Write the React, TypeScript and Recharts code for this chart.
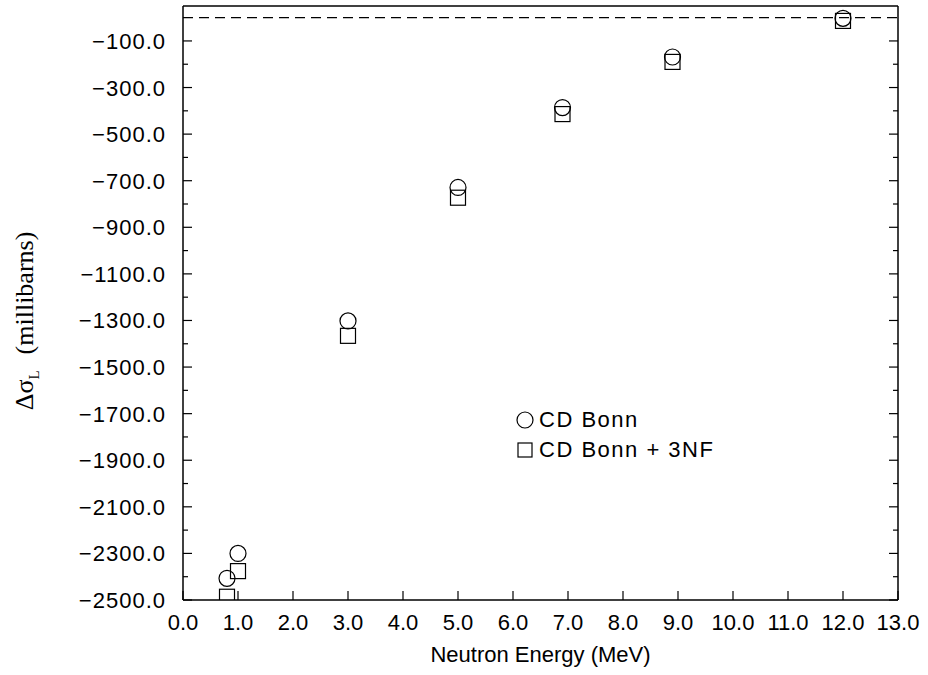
import { ScatterChart, Scatter, XAxis, YAxis, ReferenceLine, Legend, Label } from "recharts";

const energies = [0.8, 1.0, 3.0, 5.0, 6.9, 8.9, 12.0];
const cdBonn = [-2407, -2300, -1302, -729, -386, -169, -3];
const cdBonn3nf = [-2486, -2376, -1366, -773, -414, -190, -14];

const xTicks = [0, 1, 2, 3, 4, 5, 6, 7, 8, 9, 10, 11, 12, 13];
const yMajor = [-2500, -2300, -2100, -1900, -1700, -1500, -1300, -1100, -900, -700, -500, -300, -100];
const yMinor = [-2400, -2200, -2000, -1800, -1600, -1400, -1200, -1000, -800, -600, -400, -200];
const yTicks = [...yMajor, ...yMinor].sort((a, b) => a - b);

const seriesNames = ["CD Bonn", "CD Bonn + 3NF"];

const bonnData = energies.map((e, i) => ({ e, v: cdBonn[i] }));
const bonn3nfData = energies.map((e, i) => ({ e, v: cdBonn3nf[i] }));

const SANS = "'Liberation Sans', Arial, sans-serif";
const SERIF = "'Liberation Serif', 'Times New Roman', serif";

const fmtY = (v: number) => (v < 0 ? "\u2212" + Math.abs(v).toFixed(1) : v.toFixed(1));

function BottomTick({ x, y, payload }: any) {
  return (
    <g>
      <line x1={x} y1={y} x2={x} y2={y - 9} stroke="#000" strokeWidth={1.2} />
      <text x={x} y={y + 30} textAnchor="middle" fontSize={22} fontFamily={SANS} fill="#000">
        {Number(payload.value).toFixed(1)}
      </text>
    </g>
  );
}

function TopTick({ x, y }: any) {
  return <line x1={x} y1={y} x2={x} y2={y + 9} stroke="#000" strokeWidth={1.2} />;
}

function LeftTick({ x, y, payload }: any) {
  const major = yMajor.includes(payload.value);
  return (
    <g>
      <line x1={x} y1={y} x2={x + (major ? 9 : 5)} y2={y} stroke="#000" strokeWidth={1.2} />
      {major && (
        <text
          x={x - 17}
          y={y + 8}
          textAnchor="end"
          fontSize={22}
          letterSpacing={1}
          fontFamily={SANS}
          fill="#000"
        >
          {fmtY(payload.value)}
        </text>
      )}
    </g>
  );
}

function RightTick({ x, y, payload }: any) {
  const major = yMajor.includes(payload.value);
  return <line x1={x} y1={y} x2={x - (major ? 9 : 5)} y2={y} stroke="#000" strokeWidth={1.2} />;
}

const circleShape = (p: any) => <circle cx={p.cx} cy={p.cy} r={8} fill="none" stroke="#000" strokeWidth={1.2} />;
const squareShape = (p: any) => (
  <rect x={p.cx - 7.5} y={p.cy - 7.5} width={15} height={15} fill="none" stroke="#000" strokeWidth={1.2} />
);

function YTitle({ viewBox }: any) {
  const cx = viewBox.x + 33;
  const cy = viewBox.y + viewBox.height / 2 + 18;
  return (
    <text
      x={cx}
      y={cy}
      textAnchor="middle"
      fontSize={26}
      fontFamily={SERIF}
      fill="#000"
      transform={`rotate(-90, ${cx}, ${cy})`}
    >
      <tspan>Δσ</tspan>
      <tspan fontSize={15} dy={6}>L</tspan>
      <tspan dy={-6} dx={16}>(millibarns)</tspan>
    </text>
  );
}

function LegendBox() {
  return (
    <div style={{ fontFamily: SANS, fontSize: 22, letterSpacing: 1.5, color: "#000", lineHeight: "30px" }}>
      {seriesNames.map((n, i) => (
        <div key={n} style={{ display: "flex", alignItems: "center" }}>
          <svg width={18} height={18} style={{ marginRight: 5 }}>
            {i === 0 ? (
              <circle cx={9} cy={9} r={8} fill="none" stroke="#000" strokeWidth={1.2} />
            ) : (
              <rect x={2} y={2} width={14} height={14} fill="none" stroke="#000" strokeWidth={1.2} />
            )}
          </svg>
          <span>{n}</span>
        </div>
      ))}
    </div>
  );
}

export default function App() {
  return (
    <div style={{ position: "absolute", left: 0, top: 0, width: 928, height: 675, background: "#fff" }}>
      <ScatterChart width={928} height={675} margin={{ top: 0, right: 0, bottom: 0, left: 0 }}>
        <XAxis
          xAxisId="bottom"
          orientation="bottom"
          type="number"
          dataKey="e"
          domain={[0, 13]}
          allowDataOverflow
          ticks={xTicks}
          interval={0}
          height={75}
          tickSize={0}
          tickMargin={0}
          tickLine={false}
          tick={BottomTick}
          axisLine={{ stroke: "#000", strokeWidth: 1.5 }}
        >
          <Label value="Neutron Energy (MeV)" position="insideBottom" offset={13} fontSize={22} fontFamily={SANS} fill="#000" />
        </XAxis>
        <XAxis
          xAxisId="top"
          orientation="top"
          type="number"
          domain={[0, 13]}
          allowDataOverflow
          ticks={xTicks}
          interval={0}
          height={6}
          tickSize={0}
          tickMargin={0}
          tickLine={false}
          tick={TopTick}
          axisLine={{ stroke: "#000", strokeWidth: 1.5 }}
        />
        <YAxis
          yAxisId="left"
          orientation="left"
          type="number"
          dataKey="v"
          domain={[-2500, 50]}
          allowDataOverflow
          ticks={yTicks}
          interval={0}
          width={183}
          tickSize={0}
          tickMargin={0}
          tickLine={false}
          tick={LeftTick}
          axisLine={{ stroke: "#000", strokeWidth: 1.5 }}
          label={<YTitle />}
        />
        <YAxis
          yAxisId="right"
          orientation="right"
          type="number"
          domain={[-2500, 50]}
          allowDataOverflow
          ticks={yTicks}
          interval={0}
          width={30}
          tickSize={0}
          tickMargin={0}
          tickLine={false}
          tick={RightTick}
          axisLine={{ stroke: "#000", strokeWidth: 1.5 }}
        />
        <ReferenceLine xAxisId="bottom" yAxisId="left" y={0} stroke="#000" strokeWidth={1.2} strokeDasharray="10 6" />
        <Scatter
          name={seriesNames[0]}
          data={bonnData}
          xAxisId="bottom"
          yAxisId="left"
          shape={circleShape}
          isAnimationActive={false}
        />
        <Scatter
          name={seriesNames[1]}
          data={bonn3nfData}
          xAxisId="bottom"
          yAxisId="left"
          shape={squareShape}
          isAnimationActive={false}
        />
        <Legend
          layout="vertical"
          align="center"
          verticalAlign="middle"
          content={<LegendBox />}
          wrapperStyle={{ left: 516, top: 405, width: 260 }}
        />
      </ScatterChart>
    </div>
  );
}
